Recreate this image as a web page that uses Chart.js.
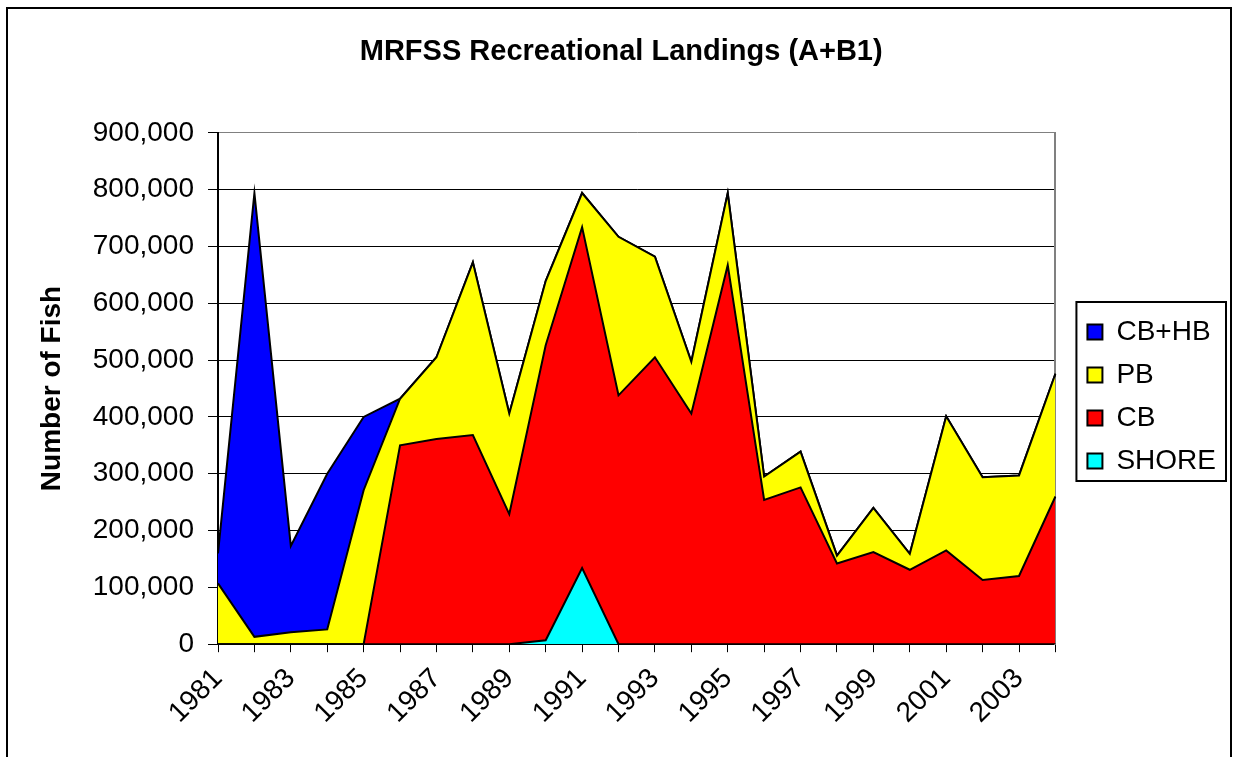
<!DOCTYPE html>
<html>
<head>
<meta charset="utf-8">
<script src="https://cdn.jsdelivr.net/npm/chart.js@4.4.0/dist/chart.umd.min.js"></script>
<style>
  body { margin: 0; background: #fff; }
  #chart { display: block; }
</style>
</head>
<body>
<canvas id="chart" width="1235" height="757"></canvas>
<script>
/*** Data ***/
const years = ['1981', '1982', '1983', '1984', '1985', '1986', '1987', '1988', '1989', '1990', '1991', '1992',
               '1993', '1994', '1995', '1996', '1997', '1998', '1999', '2000', '2001', '2002', '2003', '2004'];
const shore = [0, 0, 0, 0, 0, 0, 0, 0, 0, 7000, 134000, 0,
               0, 0, 0, 0, 0, 0, 0, 0, 0, 0, 0, 0];
const cb = [0, 0, 0, 0, 0, 350000, 361000, 368000, 229000, 519000, 600000, 438000,
            505000, 406000, 667000, 254000, 276000, 142000, 162000, 131000, 165000, 113000, 120000, 260000];
const pb = [107000, 13000, 21000, 26000, 271000, 82000, 144000, 304000, 177000, 113000, 60000, 279000,
            177000, 91000, 127000, 41000, 63000, 14000, 78000, 28000, 236000, 181000, 177000, 216000];
const cbhb = [53000, 781000, 152000, 274000, 129000, 0, 0, 0, 0, 0, 0, 0,
              0, 0, 0, 0, 0, 0, 0, 0, 0, 0, 0, 0];
const yTicks = [0, 100000, 200000, 300000, 400000, 500000, 600000, 700000, 800000, 900000];

const FONT = "'Liberation Sans', Arial, sans-serif";

/*** Outer frame + legend frame ***/
const framePlugin = {
    id: 'frame',
    afterLayout(chart) {
        // legend items sit a little low inside their box
        chart.legend.top += 8;
        chart.legend.bottom += 8;
    },
    beforeDraw(chart) {
        const ctx = chart.ctx;
        ctx.save();
        ctx.fillStyle = '#fff';
        ctx.fillRect(0, 0, chart.width, chart.height);
        ctx.restore();
    },
    afterDraw(chart) {
        const ctx = chart.ctx;
        ctx.save();
        ctx.strokeStyle = '#000';
        ctx.lineWidth = 2;
        ctx.strokeRect(7, 8, 1224, 770);

        const boxes = chart.legend.legendHitBoxes;
        if (boxes && boxes.length) {
            let l = Infinity, t = Infinity, r = -Infinity, b = -Infinity;
            boxes.forEach(function (hb) {
                l = Math.min(l, hb.left);
                t = Math.min(t, hb.top);
                r = Math.max(r, hb.left + hb.width);
                b = Math.max(b, hb.top + hb.height);
            });
            ctx.strokeRect(l - 11, t - 16, (r - l) + 21, (b - t) + 22);
        }
        ctx.restore();
    }
};

function area(label, data, color, fill) {
    return {
        label: label,
        data: data,
        backgroundColor: color,
        borderColor: '#000',
        borderWidth: 2,
        fill: fill,
        pointRadius: 0,
        pointHoverRadius: 0,
        tension: 0
    };
}

new Chart(document.getElementById('chart'), {
    type: 'line',
    data: {
        labels: years,
        datasets: [
            area('SHORE', shore, '#00ffff', 'origin'),
            area('CB', cb, '#ff0000', '-1'),
            area('PB', pb, '#ffff00', '-1'),
            area('CB+HB', cbhb, '#0000ff', '-1')
        ]
    },
    options: {
        responsive: false,
        animation: false,
        layout: {
            padding: {left: 16.4, right: 9, top: 0, bottom: 17}
        },
        plugins: {
            title: {
                display: true,
                text: 'MRFSS Recreational Landings (A+B1)',
                color: '#000',
                font: {family: FONT, size: 29, weight: 'bold'},
                padding: {top: 35, bottom: 63}
            },
            legend: {
                position: 'right',
                fullSize: false,
                reverse: true,
                labels: {
                    color: '#000',
                    font: {family: FONT, size: 28},
                    boxWidth: 15,
                    boxHeight: 15,
                    padding: 15
                }
            },
            tooltip: {enabled: false}
        },
        scales: {
            x: {
                offset: false,
                grid: {
                    drawOnChartArea: false,
                    color: '#000',
                    tickLength: 8
                },
                border: {color: '#000', width: 2},
                ticks: {
                    autoSkip: false,
                    minRotation: 45,
                    maxRotation: 45,
                    padding: 10,
                    color: '#000',
                    font: {family: FONT, size: 28},
                    callback: function (value, index) {
                        return index % 2 === 0 ? years[index] : '';
                    }
                }
            },
            y: {
                stacked: true,
                min: 0,
                max: 900000,
                afterBuildTicks: function (scale) {
                    scale.ticks = yTicks.map(function (v) { return {value: v}; });
                },
                grid: {
                    color: function (context) {
                        return context.tick && context.tick.value === 900000 ? '#808080' : '#000';
                    },
                    tickColor: '#000',
                    tickLength: 10,
                    lineWidth: 1
                },
                border: {color: '#000', width: 2},
                ticks: {
                    padding: 14,
                    color: '#000',
                    font: {family: FONT, size: 28},
                    callback: function (value) {
                        return value.toLocaleString('en-US');
                    }
                },
                title: {
                    display: true,
                    text: 'Number of Fish',
                    color: '#000',
                    font: {family: FONT, size: 28, weight: 'bold'},
                    padding: {top: 19, bottom: 30}
                }
            },
            y2: {
                position: 'right',
                display: true,
                grid: {display: false},
                ticks: {display: false},
                border: {color: '#808080', width: 2},
                afterFit: function (scale) {
                    scale.width = 17;
                }
            }
        }
    },
    plugins: [framePlugin]
});
</script>
</body>
</html>
